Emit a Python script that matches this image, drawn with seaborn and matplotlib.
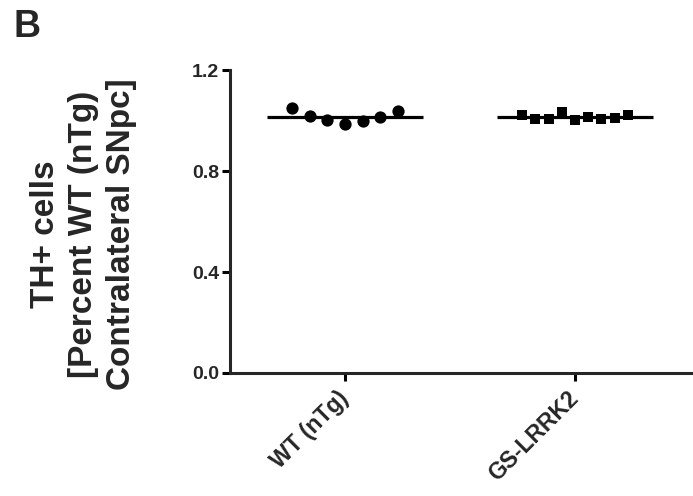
import numpy as np
import pandas as pd
import matplotlib
matplotlib.use('Agg')
import matplotlib.pyplot as plt
import seaborn as sns

groups = ['WT (nTg)', 'GS-LRRK2']
wt_vals = [1.050, 1.019, 1.003, 0.986, 0.998, 1.014, 1.038]
gs_vals = [1.022, 1.009, 1.009, 1.036, 1.003, 1.016, 1.009, 1.013, 1.022]
y_ticks = [0.0, 0.4, 0.8, 1.2]

# points are spread evenly across each column like a scatter dot plot
spread = 0.23
rows = []
for i, (g, vals) in enumerate(zip(groups, [wt_vals, gs_vals])):
    offs = np.linspace(-spread, spread, len(vals))
    for o, v in zip(offs, vals):
        rows.append({'group': g, 'x': i + o, 'val': v})
df = pd.DataFrame(rows)

sns.set_style('ticks')
plt.rcParams['font.family'] = ['Liberation Sans', 'DejaVu Sans']
plt.rcParams['font.weight'] = 'bold'

fig = plt.figure(figsize=(6.93, 4.96), dpi=100)
ax = fig.add_axes([0.332, 0.248, 0.668, 0.61])

sns.scatterplot(data=df[df.group == groups[0]], x='x', y='val', marker='o',
                color='black', s=78, linewidth=0, ax=ax, zorder=3)
sns.scatterplot(data=df[df.group == groups[1]], x='x', y='val', marker='s',
                color='black', s=56, linewidth=0, ax=ax, zorder=3)

# mean lines
means = df.groupby('group')['val'].mean()
for i, g in enumerate(groups):
    ax.hlines(means[g], i - 0.34, i + 0.34, color='black', lw=2.3, zorder=2)

ax.set_xlim(-0.5, 1.513)
ax.set_ylim(0, 1.2)
ax.set_yticks(y_ticks)
ax.set_yticklabels([f'{t:.1f}' for t in y_ticks], fontsize=14, fontweight='bold')
ax.set_xticks(range(len(groups)))
ax.set_xticklabels(groups, rotation=45, ha='right', va='center',
                   rotation_mode='anchor', fontsize=16.5, fontweight='bold')
ax.set_xlabel('')
ax.set_ylabel('TH+ cells\n[Percent WT (nTg)\nContralateral SNpc]',
              fontsize=24, fontweight='bold', linespacing=1.3)
ax.yaxis.set_label_coords(-0.20, 0.459)

for s in ['top', 'right']:
    ax.spines[s].set_visible(False)
for s in ['left', 'bottom']:
    ax.spines[s].set_linewidth(2.2)
ax.tick_params(axis='both', width=2.2, length=6, color='black')
ax.tick_params(axis='y', pad=2)
ax.tick_params(axis='x', pad=10)

fig.text(0.019, 0.925, 'B', fontsize=27, fontweight='bold', va='baseline')

fig.savefig('out.png', dpi=100)
